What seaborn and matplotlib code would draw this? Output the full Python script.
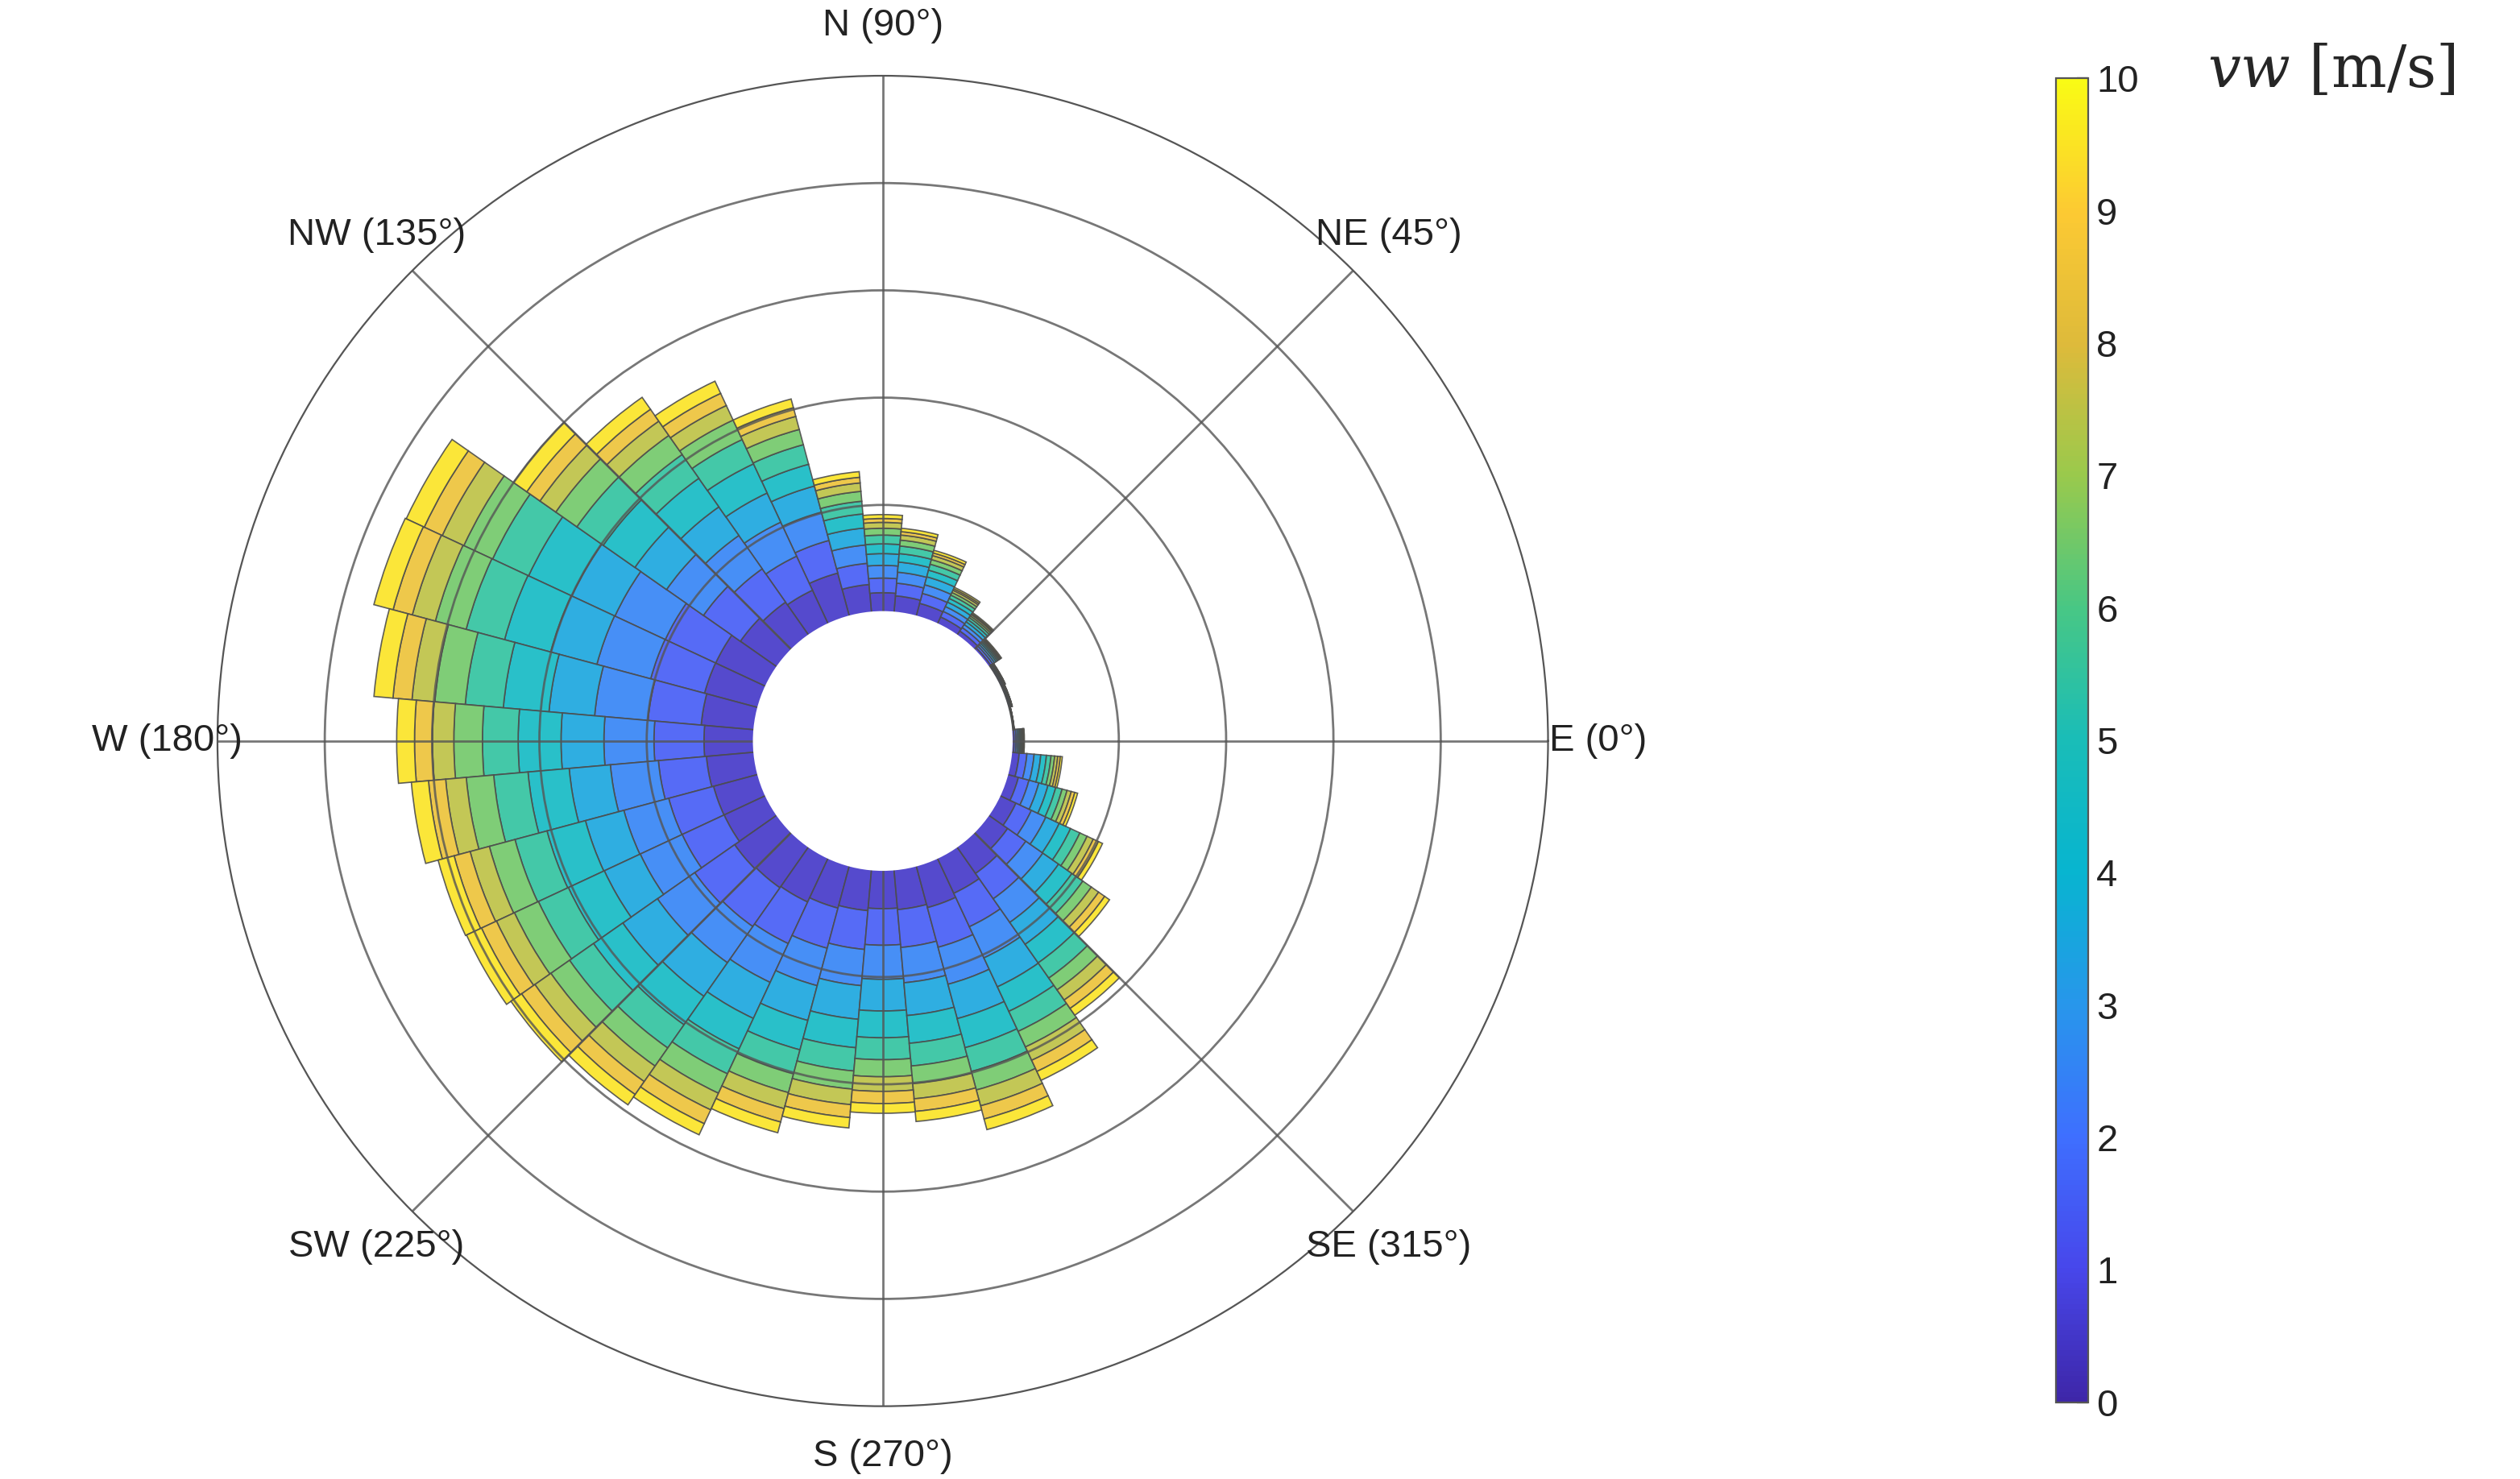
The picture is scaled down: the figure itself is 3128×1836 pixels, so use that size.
import numpy as np
import matplotlib
matplotlib.use("Agg")
import matplotlib.pyplot as plt
from matplotlib.colors import LinearSegmentedColormap
import matplotlib as mpl
import seaborn as sns

sns.set_style("white")
plt.rcParams['font.family'] = ['Liberation Sans', 'DejaVu Sans']

# wind directions (deg, 0 = East, counter-clockwise) and total frequency per sector
directions = [0, 10, 20, 30, 40, 50, 60, 70, 80, 90, 100, 110, 120, 130, 140, 150, 160, 170,
              180, 190, 200, 210, 220, 230, 240, 250, 260, 270, 280, 290, 300, 310, 320, 330, 340, 350]
totals = [0.12, 0.03, 0.05, 0.06, 0.15, 0.26, 0.38, 0.64, 0.79, 0.91, 1.32, 2.10, 2.50, 2.71, 3.00, 3.70, 3.71, 3.56,
          3.33, 3.21, 3.09, 3.08, 3.03, 2.94, 2.85, 2.58, 2.42, 2.27, 2.36, 2.55, 2.29, 1.92, 1.38, 1.06, 0.68, 0.48]

# share of each speed bin (0-1 ... 9-10 m/s) for three groups of sectors
shares_north = [0.20, 0.15, 0.13, 0.12, 0.10, 0.09, 0.07, 0.06, 0.04, 0.04]
shares_west = [0.14, 0.14, 0.14, 0.12, 0.12, 0.10, 0.08, 0.06, 0.05, 0.05]
shares_south = [0.16, 0.15, 0.14, 0.13, 0.11, 0.09, 0.07, 0.06, 0.05, 0.04]
profile = ['n'] * 12 + ['w'] * 10 + ['s'] * 14

parula = LinearSegmentedColormap.from_list("parula", [
    (0.2422, 0.1504, 0.6603), (0.2803, 0.2782, 0.9221), (0.2440, 0.4358, 0.9988),
    (0.1540, 0.5902, 0.9218), (0.0297, 0.7082, 0.8163), (0.1000, 0.7400, 0.7200),
    (0.2800, 0.7800, 0.5200), (0.6000, 0.7900, 0.3000), (0.8700, 0.7300, 0.2300),
    (0.9900, 0.7900, 0.2000), (0.9769, 0.9839, 0.0805)])
colors = sns.color_palette([parula((i + 0.5) / 10) for i in range(10)])

hole = 1.2
fig = plt.figure(figsize=(15.64, 9.18), dpi=200)
ax = fig.add_axes([0.0863, 0.049, 0.528, 0.9], projection='polar')
theta = np.deg2rad(directions)
width = np.deg2rad(10)
prof = {'n': shares_north, 'w': shares_west, 's': shares_south}
bottom = np.full(len(directions), hole)
for b in range(10):
    h = np.array([totals[i] * prof[profile[i]][b] for i in range(len(directions))])
    ax.bar(theta, h, width=width, bottom=bottom, color=colors[b], alpha=0.9,
           edgecolor=(0.3, 0.3, 0.3, 0.2), linewidth=0.6, zorder=2)
    bottom = bottom + h

ax.set_ylim(0, hole + 5)
ax.set_rticks([hole + k for k in range(1, 5)])
ax.set_yticklabels([])
ax.set_thetagrids([0, 45, 90, 135, 180, 225, 270, 315],
                  ['E (0°)', 'NE (45°)', 'N (90°)', 'NW (135°)', 'W (180°)',
                   'SW (225°)', 'S (270°)', 'SE (315°)'], fontsize=17, color='#222222')
ax.tick_params(axis='x', pad=12)
ax.grid(True, color='#555555', linewidth=1.0, alpha=0.8, zorder=3)
ax.set_axisbelow(False)
ax.spines['polar'].set_color('#555555')
ax.add_patch(plt.Circle((0, 0), hole, transform=ax.transData._b, color='white', zorder=4))

cax = fig.add_axes([0.816, 0.052, 0.0128, 0.895])
cb = fig.colorbar(mpl.cm.ScalarMappable(norm=mpl.colors.Normalize(0, 10), cmap=parula), cax=cax,
                  ticks=range(0, 11))
cb.ax.tick_params(labelsize=17, length=5, direction='in', colors='#222222')
cb.outline.set_edgecolor('#555555')
plt.rcParams['mathtext.fontset'] = 'dejavuserif'
fig.text(0.876, 0.952, r'$vw$ [m/s]', fontsize=26, family='serif', va='center', ha='left')

fig.savefig('out.png', dpi=200)
